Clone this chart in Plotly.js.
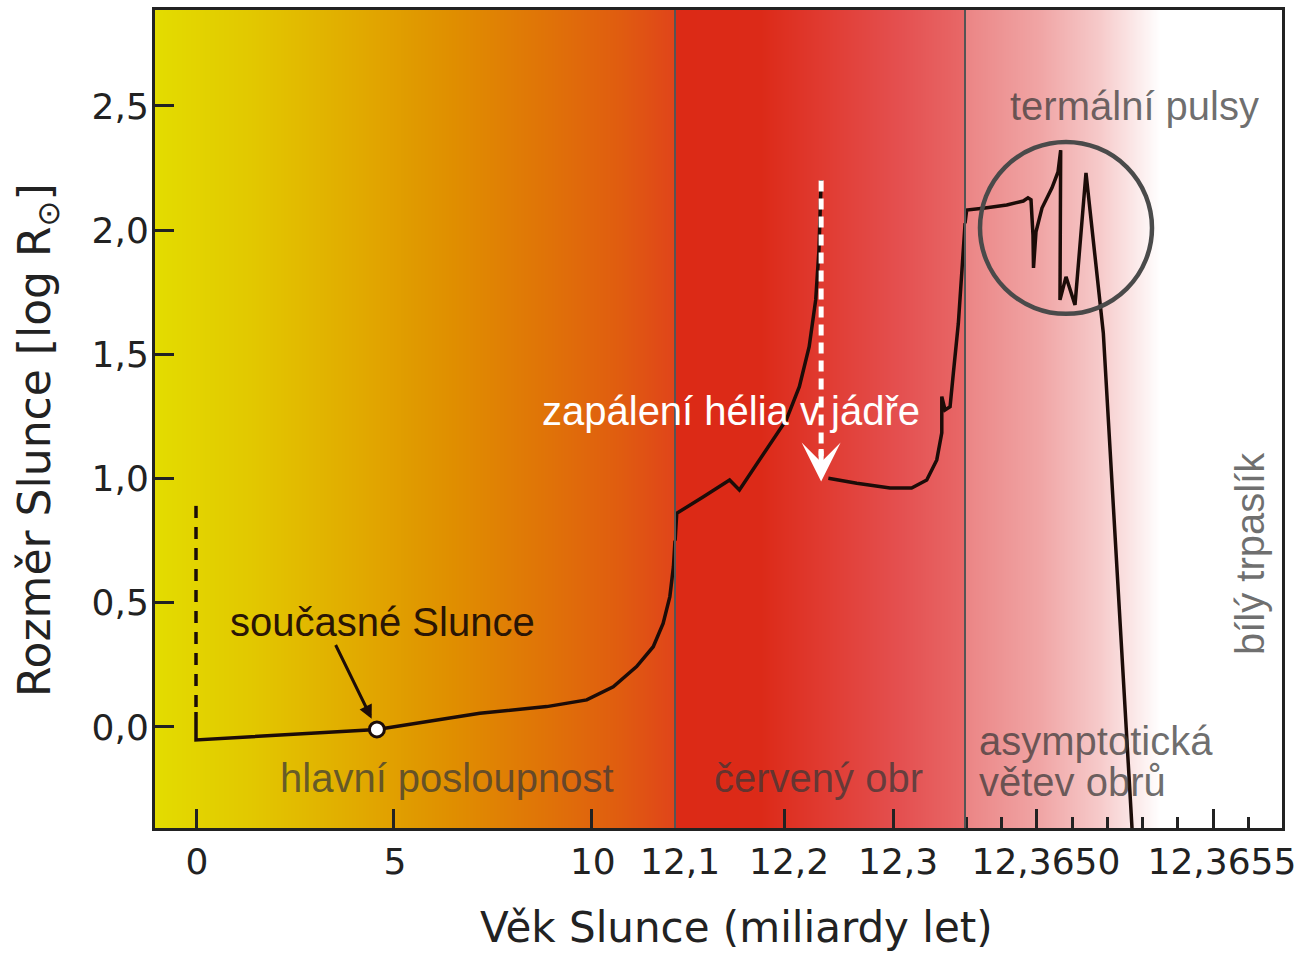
<!DOCTYPE html>
<html>
<head>
<meta charset="utf-8">
<script src="https://cdn.plot.ly/plotly-3.0.1.min.js"></script>
<style>
html,body{margin:0;padding:0;background:#fff;}
#chart{width:1313px;height:954px;}
</style>
</head>
<body>
<div id="chart"></div>
<script>
// ---------- DATA (age in billions of years, size in log R_sun) ----------
// pre-main-sequence contraction (dashed)
const preMainAge  = [0, 0];
const preMainLogR = [0.89, 0.06];

// main sequence (segment 1 of the broken axis)
const msAge  = [0, 0, 4.57, 7.17, 8.86, 9.87, 10.54, 11.13, 11.55, 11.80, 11.97, 12.06, 12.1];
const msLogR = [0.06, -0.052, -0.01, 0.055, 0.082, 0.109, 0.162, 0.243, 0.323, 0.417, 0.525, 0.645, 0.75];

// present Sun
const sunAge  = [4.57];
const sunLogR = [-0.01];

// red giant branch (segment 2)
const rgbAge  = [12.1, 12.1015, 12.126, 12.150, 12.159, 12.172, 12.184, 12.202, 12.214, 12.223, 12.229, 12.232, 12.234];
const rgbLogR = [0.75, 0.86, 0.927, 0.994, 0.954, 1.04, 1.115, 1.236, 1.370, 1.531, 1.719, 1.920, 2.202];

// helium flash jump (white dashed)
const flashAge  = [12.234, 12.234];
const flashLogR = [2.2, 1.09];

// core helium burning and early AGB (segment 2)
const heAge  = [12.2406, 12.2667, 12.2972, 12.317, 12.3309, 12.3401, 12.3447, 12.3447, 12.3477, 12.3523, 12.3553, 12.3599, 12.3630, 12.3661];
const heLogR = [1.001, 0.981, 0.962, 0.962, 0.994, 1.075, 1.184, 1.330, 1.276, 1.289, 1.424, 1.625, 1.826, 2.028];

// AGB, thermal pulses and collapse to white dwarf (segment 3)
const agbAge  = [12.3647955, 12.3648003, 12.3648523, 12.3649139, 12.3649611, 12.3649744, 12.3649830, 12.3649886, 12.3649901,
                 12.3649972, 12.3650142, 12.3650426, 12.3650597, 12.3650673, 12.3650653, 12.3650824, 12.3651080, 12.3651392,
                 12.3651884, 12.3652699, 12.3652727];
const agbLogR = [2.028, 2.081, 2.089, 2.101, 2.117, 2.130, 2.122, 1.981, 1.848,
                 1.993, 2.089, 2.170, 2.234, 2.322, 1.719, 1.812, 1.699, 2.230,
                 1.586, -0.407, -0.475];

// tick labels
const seg1Ticks = [0, 5, 10];
const seg1Text  = ['0', '5', '10'];
const seg2Ticks = [12.1, 12.2, 12.3];
const seg2Text  = ['12,1', '12,2', '12,3'];
const seg3Ticks = [12.3650, 12.3655];
const seg3Text  = ['12,3650', '12,3655'];
const yTicks    = [0, 0.5, 1.0, 1.5, 2.0, 2.5];

// ---------- LAYOUT HELPERS ----------
const b1 = 520 / 1127, b2 = 810 / 1127;   // domain breaks of the broken x axis
const ink = '#1c0c08';
const frame = '#222222';
const tickFont = {family: 'DejaVu Sans', size: 36, color: '#222'};
const labelFont = {family: 'Liberation Sans', size: 40, color: 'rgba(55,55,55,0.72)'};

const bgScale = [
  [0.000, '#e3dc00'],
  [0.084, '#e2c800'],
  [0.173, '#e1ac00'],
  [0.262, '#e08f00'],
  [0.350, '#e07208'],
  [0.413, '#e05c10'],
  [b1, '#e0441a'],
  [b1 + 0.0002, '#dc2a16'],
  [0.537, '#dc2a18'],
  [0.590, '#e03a30'],
  [0.661, '#e45050'],
  [b2, '#e86868'],
  [b2 + 0.0002, '#eb8585'],
  [0.785, '#f0a5a5'],
  [0.838, '#f6caca'],
  [0.892, '#ffffff'],
  [1.000, '#ffffff']
];

const traces = [
  {type: 'heatmap', x: [0, 1], y: [-1, 3], z: [[0, 1], [0, 1]], zmin: 0, zmax: 1,
   zsmooth: 'best', colorscale: bgScale, showscale: false, hoverinfo: 'skip', xaxis: 'x', yaxis: 'y'},
  {type: 'scatter', mode: 'lines', x: preMainAge, y: preMainLogR, xaxis: 'x2', yaxis: 'y',
   line: {color: ink, width: 3.5, dash: '12px,9px'}, hoverinfo: 'skip'},
  {type: 'scatter', mode: 'lines', x: msAge, y: msLogR, xaxis: 'x2', yaxis: 'y',
   line: {color: ink, width: 3.5}, hoverinfo: 'skip'},
  {type: 'scatter', mode: 'lines', x: rgbAge, y: rgbLogR, xaxis: 'x3', yaxis: 'y',
   line: {color: ink, width: 3.5}, hoverinfo: 'skip'},
  {type: 'scatter', mode: 'lines', x: flashAge, y: flashLogR, xaxis: 'x3', yaxis: 'y',
   line: {color: '#ffffff', width: 5, dash: '11px,7px'}, hoverinfo: 'skip'},
  {type: 'scatter', mode: 'lines', x: heAge, y: heLogR, xaxis: 'x3', yaxis: 'y',
   line: {color: ink, width: 3.5}, hoverinfo: 'skip'},
  {type: 'scatter', mode: 'lines', x: agbAge, y: agbLogR, xaxis: 'x4', yaxis: 'y',
   line: {color: ink, width: 3.5}, hoverinfo: 'skip'},
  {type: 'scatter', mode: 'markers', x: sunAge, y: sunLogR, xaxis: 'x2', yaxis: 'y',
   marker: {color: '#ffffff', size: 15, line: {color: ink, width: 3}}, hoverinfo: 'skip'}
];

const segAxis = (dom, rng, tv, tt, shift) => ({
  domain: dom, range: rng, anchor: 'y', showgrid: false, zeroline: false, showline: false,
  ticks: 'inside', ticklen: 19, tickwidth: 3, tickcolor: frame,
  tickmode: 'array', tickvals: tv, ticktext: tt, tickfont: tickFont, ticklabelstandoff: 9,
  ticklabelshift: shift, fixedrange: true
});

const xaxis4 = segAxis([b2, 1], [12.3647955, 12.365696], seg3Ticks, seg3Text, 9);
xaxis4.minor = {ticks: 'inside', ticklen: 11, tickwidth: 3, tickcolor: frame, dtick: 0.0001, tick0: 12.365, showgrid: false};

const layout = {
  width: 1313, height: 954,
  margin: {l: 155, r: 31, t: 10, b: 126, pad: 0},
  paper_bgcolor: '#ffffff', plot_bgcolor: 'rgba(0,0,0,0)',
  separators: ', ',
  showlegend: false,
  xaxis: {domain: [0, 1], range: [0, 1], anchor: 'y', showline: true, linecolor: frame, linewidth: 3, mirror: true,
          ticks: '', showticklabels: false, showgrid: false, zeroline: false, fixedrange: true},
  xaxis2: segAxis([0, b1], [-1.0357, 12.1], seg1Ticks, seg1Text, 1),
  xaxis3: segAxis([b1, b2], [12.0999, 12.366], seg2Ticks, seg2Text, 5),
  xaxis4: xaxis4,
  yaxis: {domain: [0, 1], range: [-0.4066, 2.886], anchor: 'x', showline: true, linecolor: frame, linewidth: 3, mirror: true,
          ticks: 'inside', ticklen: 19, tickwidth: 3, tickcolor: frame, tickmode: 'array', tickvals: yTicks,
          tickformat: '.1f', tickfont: tickFont, showgrid: false, zeroline: false, fixedrange: true, ticklabelstandoff: -4},
  shapes: [
    {type: 'line', xref: 'paper', yref: 'paper', x0: b1, x1: b1, y0: 0, y1: 1, layer: 'above',
     line: {color: '#555555', width: 2}},
    {type: 'line', xref: 'paper', yref: 'paper', x0: b2, x1: b2, y0: 0, y1: 1, layer: 'above',
     line: {color: '#555555', width: 2}},
    {type: 'circle', xref: 'x4', yref: 'y', x0: 12.3648381, x1: 12.3653267, y0: 1.663, y1: 2.355, layer: 'above',
     line: {color: '#4a4a4a', width: 4.5}}
  ],
  annotations: [
    // axis titles
    {xref: 'paper', yref: 'paper', x: 0.5164, y: -0.122, xanchor: 'center', yanchor: 'middle', showarrow: false,
     text: 'Věk Slunce (miliardy let)', font: {family: 'DejaVu Sans', size: 42, color: '#222'}},
    {xref: 'paper', yref: 'paper', x: -0.1047, y: 0.4743, xanchor: 'center', yanchor: 'middle', showarrow: false,
     textangle: -90, text: 'Rozměr Slunce [log R<sub>⊙</sub>]', font: {family: 'DejaVu Sans', size: 44, color: '#222'}},
    // phase labels
    {xref: 'x2', yref: 'y', x: 6.34, y: -0.205, showarrow: false, text: 'hlavní posloupnost', font: labelFont},
    {xref: 'x3', yref: 'y', x: 12.2312, y: -0.205, showarrow: false, text: 'červený obr', font: labelFont},
    {xref: 'x4', yref: 'y', x: 12.36483, y: -0.058, xanchor: 'left', showarrow: false, text: 'asymptotická', font: labelFont},
    {xref: 'x4', yref: 'y', x: 12.36483, y: -0.222, xanchor: 'left', showarrow: false, text: 'větev obrů', font: labelFont},
    {xref: 'x4', yref: 'y', x: 12.3652784, y: 2.5, showarrow: false, text: 'termální pulsy', font: labelFont},
    {xref: 'x4', yref: 'y', x: 12.365605, y: 0.70, showarrow: false, textangle: -90, text: 'bílý trpaslík', font: labelFont},
    {xref: 'x3', yref: 'y', x: 12.1514, y: 1.272, showarrow: false, text: 'zapálení hélia v jádře',
     font: {family: 'Liberation Sans', size: 40, color: '#ffffff'}},
    {xref: 'x2', yref: 'y', x: 4.70, y: 0.423, showarrow: false, text: 'současné Slunce',
     font: {family: 'Liberation Sans', size: 40, color: '#2a1505'}},
    // arrows
    {xref: 'x2', yref: 'y', x: 4.57, y: -0.01, text: '', showarrow: true, ax: -42, ay: -86,
     arrowhead: 2, arrowsize: 0.9, arrowwidth: 3, arrowcolor: ink, standoff: 12},
    {xref: 'x3', yref: 'y', x: 12.234, y: 0.988, text: '', showarrow: true, ax: 0, ay: -34,
     arrowhead: 3, arrowsize: 1.3, arrowwidth: 5, arrowcolor: '#ffffff', standoff: 0}
  ]
};

Plotly.newPlot('chart', traces, layout, {staticPlot: true, displayModeBar: false});
</script>
</body>
</html>
